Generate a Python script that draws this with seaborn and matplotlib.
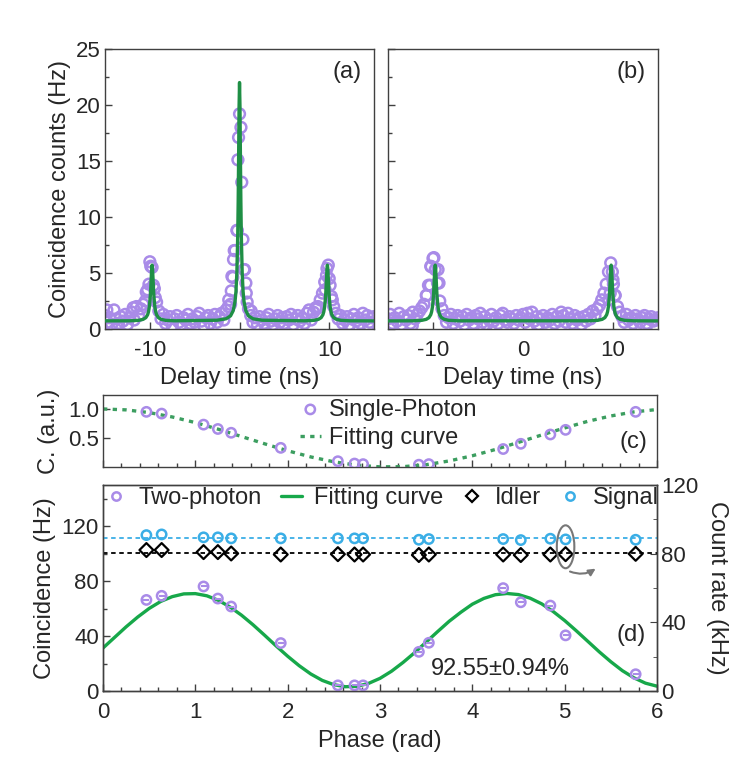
import numpy as np
import matplotlib
matplotlib.use("Agg")
import matplotlib.pyplot as plt
from matplotlib.lines import Line2D
from matplotlib.patches import Ellipse
from matplotlib.ticker import MultipleLocator
import seaborn as sns

sns.set_style("ticks")
plt.rcParams["font.family"] = ["Liberation Sans", "DejaVu Sans"]
plt.rcParams["axes.edgecolor"] = "#404040"
plt.rcParams["axes.linewidth"] = 1.0
plt.rcParams["axes.unicode_minus"] = False

PURPLE = "#a98be8"
GREEN_AB = "#1f8f45"
GREEN_C = "#3c9e60"
GREEN_D = "#17a84a"
BLUE = "#3aaee6"

# ---- (a), (b): coincidence histograms, bins every 0.25 ns ----
delay = np.arange(-15, 15.001, 0.25)
counts_a = [
    1.2, 0.6, 1.0, 0.4, 1.7, 0.9, 0.5, 1.1,
    0.7, 1.3, 0.4, 1.0, 1.5, 0.8, 2.0, 1.2,
    1.8, 2.2, 2.5, 3.5, 6.0, 5.5, 3.6, 2.4,
    1.6, 0.9, 1.3, 0.5, 0.8, 1.1, 0.3, 0.9,
    1.2, 0.6, 0.4, 1.0, 0.8, 1.3, 0.5, 0.9,
    0.6, 1.1, 1.4, 0.7, 0.3, 1.0, 1.2, 0.5,
    0.9, 1.3, 0.6, 1.1, 1.4, 0.8, 1.7, 2.0,
    2.2, 4.6, 7.0, 8.8, 19.2, 13.1, 5.3, 3.2,
    1.8, 1.2, 0.6, 1.0, 0.4, 1.1, 0.8, 0.5,
    1.0, 1.3, 0.7, 0.4, 0.9, 1.2, 0.6, 1.0,
    0.5, 1.1, 0.8, 1.3, 0.4, 0.9, 1.2, 0.7,
    1.0, 0.5, 1.4, 1.7, 0.8, 1.5, 1.9, 2.0,
    2.6, 3.2, 4.2, 5.4, 4.5, 2.9, 2.0, 1.4,
    0.9, 1.2, 0.5, 0.8, 1.1, 0.4, 0.9, 1.3,
    0.7, 1.0, 0.5, 1.4, 0.8, 1.2, 0.6, 1.0,
    1.1,
]
extra_delay_a = [-14.8, -13.6, -11.85, -10.4, -10.1, -9.9, -9.6, -9.4, -1.2, -0.92, -0.85,
                 -0.67, -0.59, -0.29, -0.18, -0.11, 0.16, 0.38, 0.56, 0.71, 0.85, 1.3,
                 8.6, 9.55, 9.7, 9.9, 10.1, 10.35, 12.2, 14.4]
extra_counts_a = [1.7, 0.2, 1.9, 3.3, 4.0, 5.6, 3.9, 2.8, 2.6, 3.4, 4.7,
                  6.2, 7.0, 8.8, 15.1, 17.1, 18.0, 8.0, 5.3, 4.1, 2.4, 1.6,
                  1.8, 3.5, 4.8, 5.7, 3.9, 2.6, 0.2, 0.3]

counts_b = [
    0.9, 1.3, 0.5, 1.0, 0.7, 1.4, 0.4, 1.1,
    0.8, 1.2, 0.5, 1.5, 0.9, 1.3, 1.6, 1.9,
    2.2, 3.0, 3.9, 5.6, 6.3, 5.3, 4.1, 2.5,
    1.8, 1.2, 0.6, 1.0, 1.3, 0.5, 0.9, 1.2,
    0.7, 1.1, 0.4, 1.3, 0.8, 1.0, 0.5, 1.2,
    0.9, 1.4, 0.6, 1.1, 0.4, 0.8, 1.3, 0.7,
    1.0, 0.5, 1.2, 1.4, 0.8, 0.6, 1.1, 0.9,
    0.5, 1.2, 0.8, 1.0, 1.3, 0.6, 1.4, 0.9,
    1.5, 0.7, 1.1, 0.4, 0.9, 1.2, 0.6, 1.0,
    0.8, 1.3, 0.5, 1.1, 0.7, 1.5, 1.2, 0.6,
    1.4, 0.9, 0.5, 1.2, 0.8, 1.0, 0.4, 1.1,
    0.7, 1.3, 0.9, 1.6, 1.2, 1.8, 2.1, 2.6,
    3.2, 4.0, 5.1, 5.9, 4.4, 3.0, 2.0, 1.5,
    1.1, 0.6, 1.3, 0.8, 1.0, 0.5, 1.2, 0.9,
    0.6, 1.0, 1.2, 0.5, 0.9, 1.1, 0.7, 0.8,
    1.0,
]
extra_delay_b = [-14.5, -12.3, -10.7, -10.3, -10.2, -9.9, -9.44, -9.33, -4.4, 1.6,
                 9.55, 9.7, 9.93, 10.05, 10.2, 13.7]
extra_counts_b = [0.2, 0.3, 3.0, 3.9, 5.56, 6.37, 5.3, 4.1, 0.2, 0.3,
                  2.6, 3.2, 5.1, 4.0, 3.0, 0.2]

# Lorentzian fits, sampled from the drawn curves
side_left_x = [-12.25, -11.25, -10.75, -10.45, -10.25, -10.15, -10.05, -9.95, -9.9, -9.85, -9.8, -9.75,
               -9.7, -9.65, -9.6, -9.55, -9.45, -9.35, -9.25, -9.05, -8.75, -8.25, -7.25]
center_x = [-2.5, -1.5, -1.0, -0.7, -0.5, -0.4, -0.3, -0.2, -0.15, -0.1, -0.05, 0.0,
            0.05, 0.1, 0.15, 0.2, 0.3, 0.4, 0.5, 0.7, 1.0, 1.5, 2.5]
side_right_x = [7.3, 8.3, 8.8, 9.1, 9.3, 9.4, 9.5, 9.6, 9.65, 9.7, 9.75, 9.8,
                9.85, 9.9, 9.95, 10.0, 10.1, 10.2, 10.3, 10.5, 10.8, 11.3, 12.3]
side_y = [0.73, 0.77, 0.86, 1.01, 1.27, 1.54, 2.02, 2.94, 3.65, 4.52, 5.34, 5.7,
          5.34, 4.52, 3.65, 2.94, 2.02, 1.54, 1.27, 1.01, 0.86, 0.77, 0.73]
center_y = [0.78, 0.91, 1.17, 1.64, 2.46, 3.32, 4.96, 8.37, 11.35, 15.44, 19.87, 22.0,
            19.87, 15.44, 11.35, 8.37, 4.96, 3.32, 2.46, 1.64, 1.17, 0.91, 0.78]
fit_a_x = [-15.0] + side_left_x + center_x + side_right_x + [15.0]
fit_a_y = [0.72] + side_y + center_y + side_y + [0.72]
fit_b_x = [-15.0] + side_left_x + side_right_x + [15.0]
fit_b_y = [0.72] + side_y + side_y + [0.72]

# ---- (c), (d): phase scan ----
phase = [0.47, 0.635, 1.089, 1.244, 1.388, 1.925, 2.544, 2.724, 2.817, 3.421, 3.529,
         4.334, 4.525, 4.845, 5.010, 5.769]
single_photon = [0.95, 0.92, 0.73, 0.655, 0.59, 0.33, 0.10, 0.06, 0.05, 0.04, 0.05,
                 0.31, 0.40, 0.56, 0.64, 0.95]
two_photon = [66.3, 69.3, 76.1, 67.3, 61.5, 34.9, 4.1, 4.1, 4.1, 28.5, 35.1,
              74.9, 64.6, 62.2, 40.5, 12.2]
signal_rate = [90.8, 91.2, 89.5, 89.5, 88.9, 88.9, 88.9, 88.9, 88.9, 88.1, 88.5,
               88.5, 87.9, 88.7, 88.3, 88.1]
idler_rate = [82.1, 82.1, 80.9, 80.9, 80.1, 79.5, 79.7, 79.5, 79.5, 79.2, 79.5,
              79.5, 79.2, 79.5, 79.7, 79.9]
signal_level = 89.0
idler_level = 80.3

grid_c = np.arange(0, 6.001, 0.25)
fit_c = [1.0, 0.984, 0.937, 0.862, 0.765, 0.650, 0.525, 0.400, 0.280, 0.174, 0.090, 0.031,
         0.003, 0.006, 0.040, 0.105, 0.194, 0.302, 0.425, 0.551, 0.673, 0.787, 0.879, 0.949, 0.990]
grid_d = np.arange(0, 6.001, 0.125)
fit_d = [31.3, 39.0, 46.7, 53.8, 60.1, 65.2, 68.7, 70.7, 70.9, 69.3, 66.0, 61.2,
         55.2, 48.2, 40.6, 32.8, 25.3, 18.4, 12.4, 7.7, 4.6, 3.1, 3.4, 5.5,
         9.2, 14.4, 20.8, 27.9, 35.6, 43.3, 50.8, 57.3, 63.2, 67.4, 70.1, 71.0,
         70.2, 67.6, 63.5, 57.9, 51.3, 43.9, 36.2, 28.5, 21.3, 14.8, 9.6, 5.7, 3.5]
visibility = "92.55±0.94%"

FS = 17
TFS = 16

fig = plt.figure(figsize=(7.47, 7.67), dpi=100)
ax_a = fig.add_axes([0.1406, 0.5711, 0.3601, 0.3651])
ax_b = fig.add_axes([0.5194, 0.5711, 0.3614, 0.3651])
ax_c = fig.add_axes([0.1379, 0.3911, 0.7416, 0.0939])
ax_d = fig.add_axes([0.1379, 0.0991, 0.7416, 0.2686])


def style(ax):
    ax.tick_params(which="both", direction="in", top=False, right=False,
                   labelsize=TFS, color="#404040")
    ax.tick_params(which="major", length=5, width=1)
    ax.tick_params(which="minor", length=3, width=1)
    ax.tick_params(axis="x", pad=8)
    ax.tick_params(axis="y", pad=3)


for ax, cts, ex_x, ex_y, fx, fy, tag in [
    (ax_a, counts_a, extra_delay_a, extra_counts_a, fit_a_x, fit_a_y, "(a)"),
    (ax_b, counts_b, extra_delay_b, extra_counts_b, fit_b_x, fit_b_y, "(b)"),
]:
    sns.scatterplot(x=list(delay) + ex_x, y=cts + ex_y, ax=ax, marker="o", s=60,
                    facecolors="none", edgecolor=PURPLE, linewidth=1.8, legend=False, zorder=2)
    sns.lineplot(x=fx, y=fy, ax=ax, color=GREEN_AB, linewidth=2.4, estimator=None,
                 sort=False, zorder=3)
    ax.set_xlim(-15, 15)
    ax.set_ylim(0, 25)
    ax.set_xticks([-10, 0, 10])
    ax.set_yticks([0, 5, 10, 15, 20, 25])
    ax.yaxis.set_minor_locator(MultipleLocator(2.5))
    style(ax)
    ax.set_xlabel("Delay time (ns)", fontsize=FS, labelpad=4)
    ax.set_ylabel("")
    ax.text(0.90, 0.918, tag, transform=ax.transAxes, fontsize=FS, ha="center", va="center")

ax_a.set_ylabel("Coincidence counts (Hz)", fontsize=FS)
ax_a.yaxis.set_label_coords(-0.125, 0.5)
ax_b.tick_params(labelleft=False)

# ---- (c) ----
sns.scatterplot(x=phase, y=single_photon, ax=ax_c, marker="o", s=45, facecolors="none",
                edgecolor=PURPLE, linewidth=1.8, label="Single-Photon", zorder=3)
sns.lineplot(x=grid_c, y=fit_c, ax=ax_c, color=GREEN_C, linewidth=2.4,
             linestyle=(0, (1.3, 1.6)), estimator=None, label="Fitting curve", zorder=2)
ax_c.set_xlim(0, 6)
ax_c.set_ylim(0, 1.24)
ax_c.set_yticks([0.5, 1.0])
ax_c.set_yticklabels(["0.5", "1.0"])
ax_c.xaxis.set_major_locator(MultipleLocator(1))
ax_c.xaxis.set_minor_locator(MultipleLocator(0.2))
style(ax_c)
ax_c.tick_params(labelbottom=False)
ax_c.set_xlabel("")
ax_c.set_ylabel("C. (a.u.)", fontsize=FS)
ax_c.yaxis.set_label_coords(-0.078, 0.5)
ax_c.legend(loc="upper left", bbox_to_anchor=(0.355, 0.95), frameon=False, fontsize=FS,
            handlelength=0.9, handletextpad=0.35, labelspacing=0.28, borderpad=0,
            borderaxespad=0)
ax_c.text(0.957, 0.35, "(c)", transform=ax_c.transAxes, fontsize=FS, ha="center", va="center")

# ---- (d) ----
ax_r = ax_d.twinx()
ax_r.axhline(signal_level, color=BLUE, linestyle=(0, (2.5, 2)), linewidth=1.3, zorder=1)
ax_r.axhline(idler_level, color="black", linestyle=(0, (2.5, 2)), linewidth=1.3, zorder=1)
sns.scatterplot(x=phase, y=signal_rate, ax=ax_r, marker="o", s=45, facecolors="none",
                edgecolor=BLUE, linewidth=1.8, legend=False, zorder=3)
sns.scatterplot(x=phase, y=idler_rate, ax=ax_r, marker="D", s=50, facecolors="none",
                edgecolor="black", linewidth=1.6, legend=False, zorder=3)
sns.scatterplot(x=phase, y=two_photon, ax=ax_d, marker="o", s=45, facecolors="none",
                edgecolor=PURPLE, linewidth=1.8, legend=False, zorder=3)
sns.scatterplot(x=phase, y=two_photon, ax=ax_d, marker="_", s=25, color=PURPLE,
                linewidth=1.5, legend=False, zorder=3)
sns.lineplot(x=grid_d, y=fit_d, ax=ax_d, color=GREEN_D, linewidth=2.4,
             estimator=None, zorder=2)

ax_d.set_xlim(0, 6)
ax_d.set_ylim(0, 150)
ax_d.set_yticks([0, 40, 80, 120])
ax_d.yaxis.set_minor_locator(MultipleLocator(20))
ax_d.xaxis.set_major_locator(MultipleLocator(1))
ax_d.xaxis.set_minor_locator(MultipleLocator(0.2))
style(ax_d)
ax_d.set_xlabel("Phase (rad)", fontsize=FS, labelpad=5)
ax_d.set_ylabel("Coincidence (Hz)", fontsize=FS)
ax_d.yaxis.set_label_coords(-0.085, 0.5)

ax_r.set_ylim(0, 120)
ax_r.set_yticks([0, 40, 80, 120])
ax_r.yaxis.set_minor_locator(MultipleLocator(20))
ax_r.tick_params(which="both", direction="in", right=True, left=False, labelsize=TFS,
                 pad=3, color="#404040")
ax_r.tick_params(which="major", length=5)
ax_r.tick_params(which="minor", length=3)
ax_r.set_ylabel("Count rate (kHz)", fontsize=FS, rotation=270, va="bottom")
ax_r.yaxis.set_label_coords(1.088, 0.5)

# highlighted point at phase ~5.0
k = 14
ell = Ellipse((phase[k], (signal_rate[k] + idler_rate[k]) / 2), width=0.19, height=25,
              fill=False, edgecolor="#777777", linewidth=1.5, zorder=4)
ax_r.add_patch(ell)
ax_r.annotate("", xy=(phase[k] + 0.35, idler_rate[k] - 7.5),
              xytext=(phase[k] + 0.02, idler_rate[k] - 9.5),
              arrowprops=dict(arrowstyle="-|>", color="#777777", lw=1.5,
                              connectionstyle="arc3,rad=0.3", mutation_scale=10))

ax_d.text(4.3, 16, visibility, fontsize=FS, ha="center", va="center")
ax_d.text(0.953, 0.271, "(d)", transform=ax_d.transAxes, fontsize=FS, ha="center", va="center")

handles = [
    Line2D([], [], marker="o", mfc="none", mec=PURPLE, mew=1.8, ms=6, ls="none"),
    Line2D([], [], color=GREEN_D, lw=2.4),
    Line2D([], [], marker="D", mfc="none", mec="black", mew=1.6, ms=6, ls="none"),
    Line2D([], [], marker="o", mfc="none", mec=BLUE, mew=1.8, ms=6, ls="none"),
]
ax_d.legend(handles, ["Two-photon", "Fitting curve", "Idler", "Signal"], loc="upper left",
            bbox_to_anchor=(0.0, 1.0), ncol=4, frameon=False, fontsize=FS,
            handlelength=0.9, handletextpad=0.5, columnspacing=0.8, borderpad=0.1,
            borderaxespad=0)

fig.savefig("out.png", dpi=100)
